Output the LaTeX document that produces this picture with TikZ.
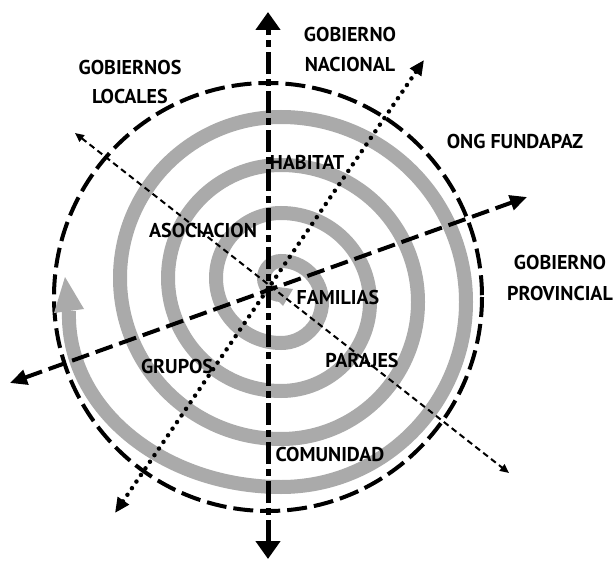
\documentclass[tikz,border=0pt]{standalone}
\usepackage{fontspec}
\setmainfont{PT Sans}
\usetikzlibrary{arrows.meta}
\definecolor{spiralgray}{RGB}{170,170,170}
\begin{document}
\begin{tikzpicture}[x=1pt,y=-1pt,
  lbl/.style={font=\bfseries\fontsize{20}{22}\selectfont, inner sep=0pt, text=black},
  spiralline/.style={draw=spiralgray, line width=14pt},
  axisv/.style={line width=5pt, dash pattern=on 22pt off 5pt on 7pt off 5pt, {Triangle[length=18pt,width=24pt]}-{Triangle[length=18pt,width=24pt]}},
  axisdash/.style={line width=4pt, dash pattern=on 18pt off 7pt, {Triangle[length=17pt,width=15pt]}-{Triangle[length=17pt,width=15pt]}},
  axisdot/.style={line width=4.5pt, line cap=round, dash pattern=on 0pt off 8pt, {Triangle[length=15pt,width=13pt]}-{Triangle[length=15pt,width=13pt]}},
  axisthin/.style={line width=2pt, dash pattern=on 6pt off 4pt, {Triangle[length=9pt,width=8pt]}-{Triangle[length=9pt,width=8pt]}},
  ring/.style={line width=4pt, dash pattern=on 20pt off 7pt}
]
\useasboundingbox[fill=white] (0,0) rectangle (615,561);

% dashed outer circle
\draw[ring] (268,297) circle[radius=214];

% spiral
\draw[spiralline] (281,295) arc[start angle=90, end angle=270, radius=17]
  arc[start angle=-90, end angle=90, radius=41]
  arc[start angle=90, end angle=270, radius=65]
  arc[start angle=-90, end angle=90, radius=89]
  arc[start angle=90, end angle=270, radius=113]
  arc[start angle=-90, end angle=90, radius=137]
  arc[start angle=90, end angle=270, radius=161]
  arc[start angle=-90, end angle=90, radius=185]
  .. controls (165,487) and (66,410) .. (69,311) coordinate (spend);
\fill[spiralgray] (65,277) -- (54,313) -- (84,309) -- cycle;
\fill[spiralgray] (263,285) -- (293,289) -- (283,306) -- cycle;

% axes
\coordinate (vt) at (268,12);
\coordinate (vb) at (268,559);
\coordinate (dl) at (10,383);
\coordinate (dr) at (527,197);
\coordinate (pl) at (115,513);
\coordinate (pr) at (424,60);
\coordinate (tl) at (75,133);
\coordinate (tr) at (509,473);
\draw[axisthin] (tl) -- (tr);
\draw[axisdot] (pl) -- (pr);
\draw[axisdash] (dl) -- (dr);
\draw[axisv] (vb) -- (vt);

% labels
\node[lbl] (gl1) at (130,68) {GOBIERNOS};
\node[lbl] (gl2) at (130,97) {LOCALES};
\node[lbl] (gn1) at (350,35) {GOBIERNO};
\node[lbl] (gn2) at (350,65) {NACIONAL};
\node[lbl] (ong) at (515,142) {ONG FUNDAPAZ};
\node[lbl] (gp1) at (560,262) {GOBIERNO};
\node[lbl] (gp2) at (560,293) {PROVINCIAL};
\node[lbl] (hab) at (307,163) {HABITAT};
\node[lbl] (aso) at (203,230) {ASOCIACION};
\node[lbl] (fam) at (338,297) {FAMILIAS};
\node[lbl] (par) at (362,360) {PARAJES};
\node[lbl] (gru) at (177,366) {GRUPOS};
\node[lbl] (com) at (330,454) {COMUNIDAD};
\end{tikzpicture}
\end{document}
